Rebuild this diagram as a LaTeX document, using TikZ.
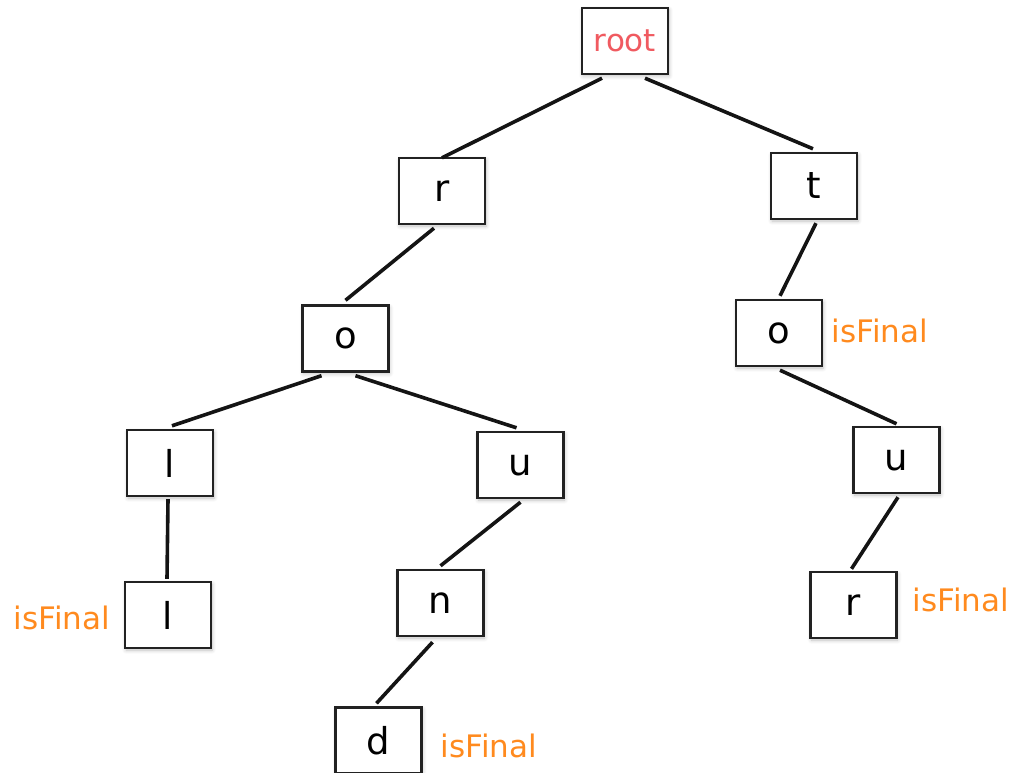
\documentclass[tikz,border=0pt]{standalone}
\usepackage{fontspec}
\setmainfont{DejaVu Sans}
\usetikzlibrary{calc,shadows.blur}
\definecolor{finalc}{HTML}{FF8A1E}
\definecolor{rootc}{HTML}{F05A60}
\definecolor{boxc}{HTML}{222222}
\tikzset{
  trie/.style={draw=boxc, line width=2.4pt, fill=white, minimum width=86pt, minimum height=66pt,
    inner sep=0pt, font=\fontsize{37}{37}\selectfont,
    blur shadow={shadow xshift=1pt, shadow yshift=-2pt, shadow blur steps=6, shadow blur radius=4pt, shadow opacity=25}},
  fin/.style={text=finalc, font=\fontsize{31}{31}\selectfont, inner sep=0pt},
  edge/.style={line width=3.6pt, draw=black!92},
}
\begin{document}
\begin{tikzpicture}[x=1pt,y=-1pt]
\useasboundingbox (0,0) rectangle (1013,773);
\node[trie, text=rootc, font=\fontsize{31}{31}\selectfont] (root) at (625,41) {root};
\node[trie] (r) at (442,191) {r};
\node[trie] (t) at (814,186) {t};
\node[trie] (oL) at (345.5,338.5) {o};
\node[trie] (oR) at (779,333) {o};
\node[trie] (l1) at (170,463) {l};
\node[trie] (uL) at (520.5,465) {u};
\node[trie] (uR) at (896.5,460) {u};
\node[trie] (l2) at (168,615) {l};
\node[trie] (n) at (440.5,603) {n};
\node[trie] (rR) at (853.5,605) {r};
\node[trie] (d) at (378.5,740.5) {d};

\node[fin] (f1) at (62,618) {isFinal};
\node[fin] (f2) at (880,331) {isFinal};
\node[fin] (f3) at (961,600) {isFinal};
\node[fin] (f4) at (489,746) {isFinal};

\draw[edge] ($(root.south)+(-23,3)$) -- ($(r.north)+(0,1)$);
\draw[edge] ($(root.south)+(20,3)$) -- ($(t.north)+(-1,-3)$);
\draw[edge] ($(r.south)+(-8,3)$) -- ($(oL.north)+(0,-4)$);
\draw[edge] ($(t.south)+(2,3)$) -- ($(oR.north)+(1,-3)$);
\draw[edge] ($(oL.south)+(-24,3)$) -- ($(l1.north)+(2,-3)$);
\draw[edge] ($(oL.south)+(10,3)$) -- ($(uL.north)+(-4,-3)$);
\draw[edge] ($(oR.south)+(1,3)$) -- ($(uR.north)+(0,-2)$);
\draw[edge] ($(uL.south)+(0,3)$) -- ($(n.north)+(0,-3)$);
\draw[edge] ($(uR.south)+(1.5,3)$) -- ($(rR.north)+(-2,-2)$);
\draw[edge] ($(n.south)+(-8,5)$) -- ($(d.north)+(-2,-3)$);
\draw[edge] ($(l1.south)+(-2,2)$) -- ($(l2.north)+(-1,-2)$);
\end{tikzpicture}
\end{document}
